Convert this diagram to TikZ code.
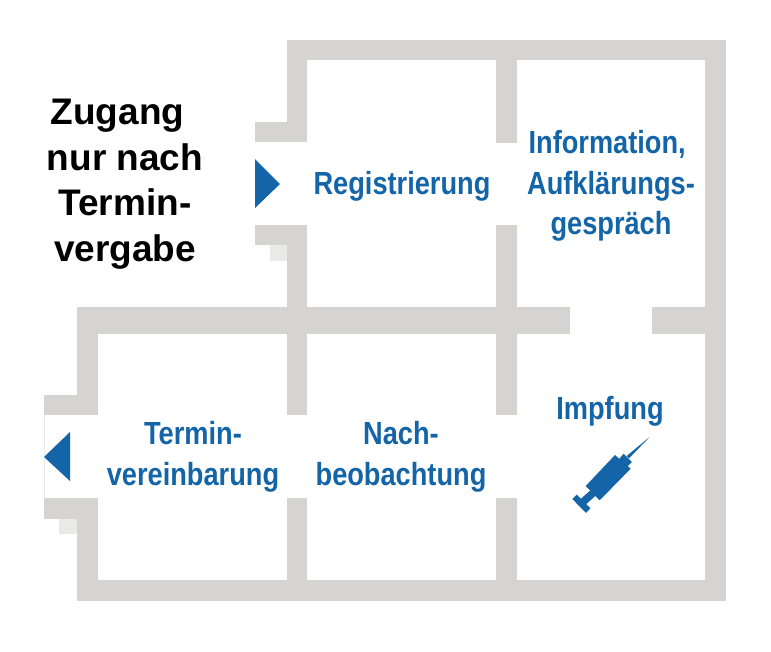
\documentclass[tikz,border=0pt]{standalone}
\usepackage{fontspec}
\setmainfont{Liberation Sans}
\definecolor{wall}{HTML}{D5D4D2}
\definecolor{wallpale}{HTML}{E9E9E8}
\definecolor{bluetxt}{HTML}{1464A8}
\tikzset{
  wallpart/.style={fill=wall,draw=none},
  palepart/.style={fill=wallpale,draw=none},
  marker/.style={fill=bluetxt,draw=none},
  roomlabel/.style={text=bluetxt,font=\fontsize{32}{40.5}\selectfont\bfseries,align=center,xscale=.85,inner sep=0pt},
  notelabel/.style={text=black,font=\fontsize{37}{45.5}\selectfont\bfseries,align=center,inner sep=0pt}
}
\begin{document}
\begin{tikzpicture}[x=1pt,y=-1pt]
\useasboundingbox (0,0) rectangle (771,651);
% pale patches
\fill[palepart] (270,245) rectangle (287,261);
\fill[palepart] (59,519) rectangle (77,534);
\draw[wallpale,line width=.8pt] (44,415) -- (44,498);
% outer walls
\fill[wallpart] (287,40) rectangle (726,60);
\fill[wallpart] (705,40) rectangle (726,601);
\fill[wallpart] (77,580) rectangle (726,601);
\fill[wallpart] (287,40) rectangle (307,142);
\fill[wallpart] (255,122) rectangle (307,142);
\fill[wallpart] (255,225) rectangle (307,245);
\fill[wallpart] (287,225) rectangle (307,307);
% middle wall
\fill[wallpart] (77,307) rectangle (570,334);
\fill[wallpart] (652,307) rectangle (726,334);
% left wall
\fill[wallpart] (77,307) rectangle (98,415);
\fill[wallpart] (44,395) rectangle (98,415);
\fill[wallpart] (44,498) rectangle (98,519);
\fill[wallpart] (77,498) rectangle (98,601);
% inner walls
\fill[wallpart] (496,40) rectangle (517,143);
\fill[wallpart] (496,225) rectangle (517,307);
\fill[wallpart] (496,334) rectangle (517,415);
\fill[wallpart] (496,498) rectangle (517,580);
\fill[wallpart] (287,334) rectangle (307,415);
\fill[wallpart] (287,498) rectangle (307,580);
% arrows
\fill[marker] (255,159) -- (280,184) -- (255,208) -- cycle;
\fill[marker] (70,432) -- (44,457) -- (70,481) -- cycle;
% syringe
\begin{scope}[shift={(560,425)},x=.3333pt,y=-.3333pt]
\fill[marker] (270,35) -- (207,100) -- (200,93) -- cycle;
\fill[marker] (175,105) -- (191,86) -- (216,111) -- (198,128) -- cycle;
\fill[marker] (165,90) -- (212,131) -- (119,226) -- (77,183) -- cycle;
\fill[marker] (91,196) -- (107,212) -- (78,238) -- (62,222) -- cycle;
\fill[marker] (50,209) -- (91,250) -- (78,264) -- (37,222) -- cycle;
\end{scope}
% labels
\node[notelabel] (note) at (125,184) {Zugang\kern15pt\\nur nach\\Termin-\\vergabe};
\node[roomlabel] (reg) at (402,186) {Registrierung};
\node[roomlabel] (info) at (611,186) {Information,\kern9pt\\Aufklärungs-\\gespräch};
\node[roomlabel] (imp) at (610,411) {Impfung};
\node[roomlabel] (term) at (193,457) {Termin-\\vereinbarung};
\node[roomlabel] (nach) at (401,457) {Nach-\\beobachtung};
\end{tikzpicture}
\end{document}
